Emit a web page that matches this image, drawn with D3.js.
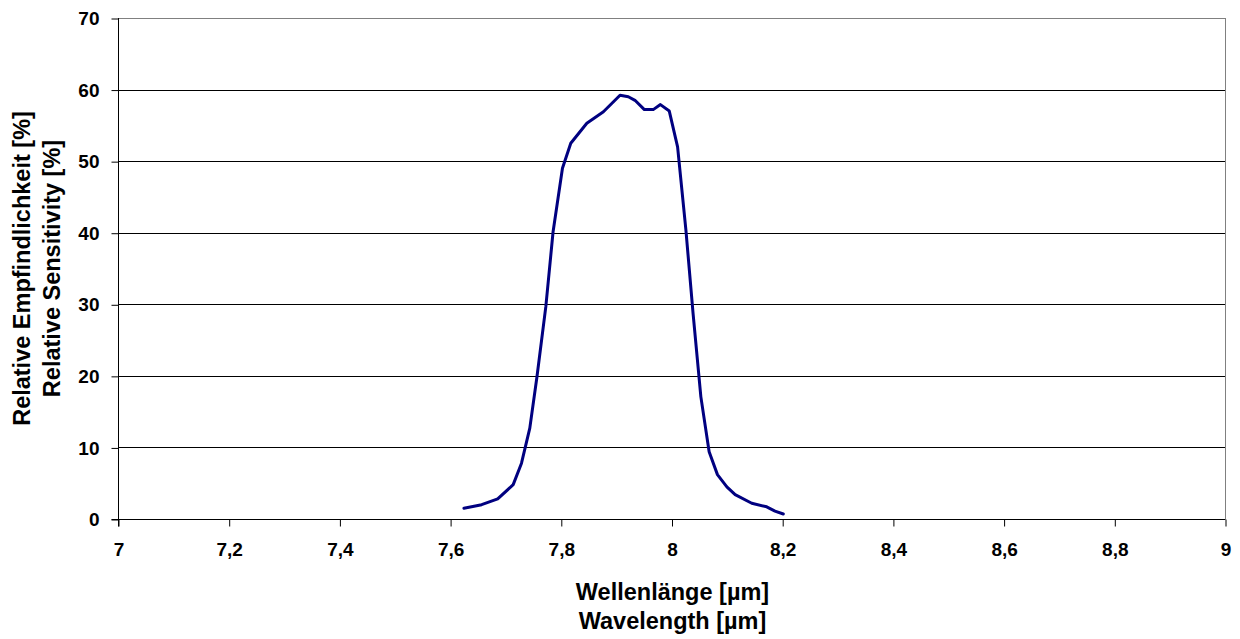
<!DOCTYPE html>
<html>
<head>
<meta charset="utf-8">
<script src="https://cdn.jsdelivr.net/npm/d3@7"></script>
<style>
  html, body { margin: 0; padding: 0; background: #fff; }
  svg { display: block; font-family: "Liberation Sans", Arial, sans-serif; font-weight: bold; }
</style>
</head>
<body>
<svg id="chart" width="1240" height="639"></svg>
<script>
// Spectral response of the filter
const wavelength = [7.625, 7.657, 7.686, 7.714, 7.729, 7.744, 7.757, 7.773, 7.786, 7.803, 7.818,
  7.847, 7.877, 7.907, 7.922, 7.934, 7.951, 7.967, 7.980, 7.996, 8.011, 8.026, 8.039, 8.053,
  8.068, 8.083, 8.100, 8.115, 8.145, 8.172, 8.187, 8.202];
const sensitivity = [1.5, 2.0, 2.8, 4.8, 7.8, 12.7, 19.9, 29.7, 40.1, 49.0, 52.5,
  55.3, 56.9, 59.2, 59.0, 58.5, 57.2, 57.2, 57.9, 57.0, 52.0, 40.4, 28.7, 17.1,
  9.4, 6.2, 4.5, 3.4, 2.2, 1.7, 1.1, 0.7];

const xTicks = [7, 7.2, 7.4, 7.6, 7.8, 8, 8.2, 8.4, 8.6, 8.8, 9];
const yTicks = [0, 10, 20, 30, 40, 50, 60, 70];
const xTitle = ["Wellenlänge [µm]", "Wavelength [µm]"];
const yTitle = ["Relative Empfindlichkeit [%]", "Relative Sensitivity [%]"];

const svg = d3.select("#chart");
const plot = { left: 118, right: 1225, top: 18, bottom: 519 };

const x = d3.scaleLinear().domain([7, 9]).range([plot.left, plot.right]);
const y = d3.scaleLinear().domain([0, 70]).range([plot.bottom, plot.top]);
const fmt = d => String(d).replace(".", ",");
const font = "Liberation Sans, Arial, sans-serif";

// horizontal gridlines
svg.append("g")
  .selectAll("line")
  .data(yTicks.filter(d => d > 0))
  .join("line")
  .attr("x1", plot.left).attr("x2", plot.right)
  .attr("y1", d => Math.round(y(d)) + 0.5).attr("y2", d => Math.round(y(d)) + 0.5)
  .attr("stroke", d => d === 70 ? "#808080" : "#000")
  .attr("stroke-width", 1);

// right border
svg.append("line")
  .attr("x1", plot.right + 0.5).attr("x2", plot.right + 0.5)
  .attr("y1", plot.top).attr("y2", plot.bottom)
  .attr("stroke", "#808080");

// y axis
const yAxis = svg.append("g")
  .attr("transform", `translate(${plot.left + 0.5},0.5)`)
  .call(d3.axisLeft(y).tickValues(yTicks).tickSize(7).tickPadding(12).tickFormat(fmt));
yAxis.selectAll("text").attr("font-size", 19).attr("font-family", font).attr("font-weight", "bold").attr("fill", "#000");
yAxis.selectAll("line, path").attr("stroke", "#000");
yAxis.select("path").attr("d", `M0,${plot.top - 0.5}V${plot.bottom + 7}`);

// x axis
const xAxis = svg.append("g")
  .attr("transform", `translate(0.5,${plot.bottom + 0.5})`)
  .call(d3.axisBottom(x).tickValues(xTicks).tickSize(7).tickFormat(fmt));
xAxis.selectAll("text")
  .attr("y", 36).attr("dy", 0)
  .attr("font-size", 19).attr("font-family", font).attr("font-weight", "bold").attr("fill", "#000");
xAxis.selectAll("line, path").attr("stroke", "#000");
xAxis.select("path").attr("d", `M${plot.left - 7},0H${plot.right}`);

// response curve
svg.append("path")
  .datum(wavelength.map((w, i) => [w, sensitivity[i]]))
  .attr("fill", "none")
  .attr("stroke", "#000080")
  .attr("stroke-width", 3)
  .attr("stroke-linejoin", "round")
  .attr("stroke-linecap", "round")
  .attr("d", d3.line().x(d => x(d[0])).y(d => y(d[1])));

// axis titles
svg.append("g").selectAll("text")
  .data(xTitle)
  .join("text")
  .attr("x", (plot.left + plot.right) / 2 + 1)
  .attr("y", (d, i) => 600 + i * 29)
  .attr("text-anchor", "middle")
  .attr("font-size", 23.5)
  .text(d => d);

svg.append("g")
  .attr("transform", `translate(0,${(plot.top + plot.bottom) / 2})`)
  .selectAll("text")
  .data(yTitle)
  .join("text")
  .attr("transform", (d, i) => `translate(${30 + i * 30},0) rotate(-90)`)
  .attr("text-anchor", "middle")
  .attr("font-size", 23.5)
  .text(d => d);
</script>
</body>
</html>
